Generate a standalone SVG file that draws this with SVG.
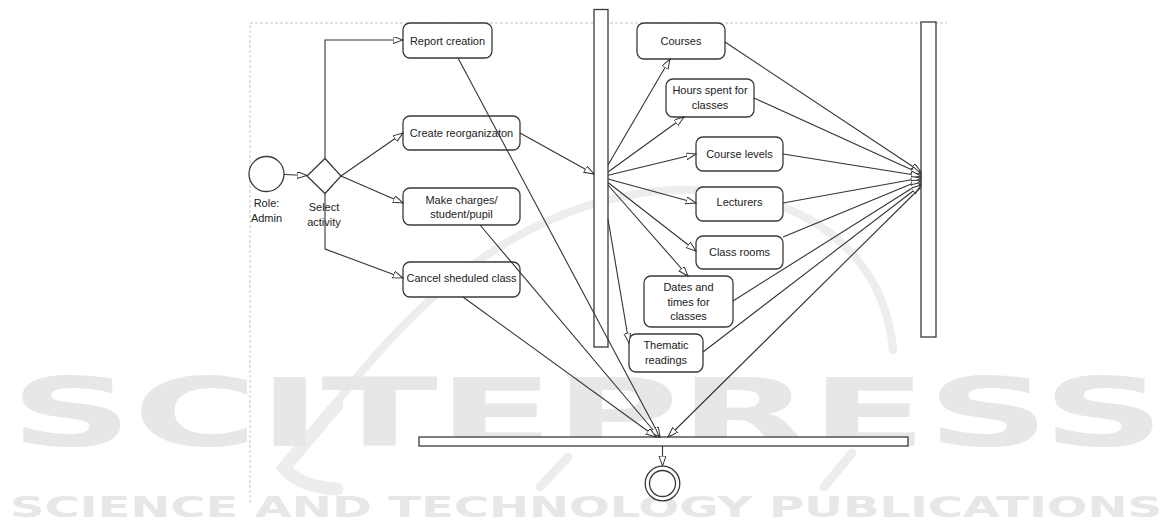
<svg xmlns="http://www.w3.org/2000/svg" width="1172" height="525" viewBox="0 0 1172 525">
<defs>
<marker id="ah" markerUnits="userSpaceOnUse" markerWidth="12" markerHeight="9" refX="10" refY="3.5" orient="auto">
<path d="M0,0 L10,3.5 L0,7 z" fill="#fff" stroke="#333" stroke-width="1"/>
</marker>
<style>
.wm{fill:#e7e7e7;font-family:"DejaVu Sans",sans-serif;font-weight:bold}
.sw{fill:none;stroke:#ededed;stroke-linecap:round}
.bd{fill:none;stroke:#c4c4c4;stroke-width:1;stroke-dasharray:3 2}
.n{fill:#fff;stroke:#3a3a3a;stroke-width:1.3}
.bar{fill:#fff;stroke:#3a3a3a;stroke-width:1.3}
.t{font-family:"Liberation Sans",Arial,sans-serif;font-size:11px;fill:#222;text-anchor:middle}
.e{fill:none;stroke:#333;stroke-width:1.1;marker-end:url(#ah)}
</style>
</defs>
<rect width="1172" height="525" fill="#fff"/>
<g id="watermark">
<path class="sw" stroke-width="8" d="M 337 402 C 420 295, 525 200, 670 190 C 805 185, 885 255, 893 350"/>
<path class="sw" stroke-width="13" d="M 337 405 L 284 468 Q 300 487 337 489"/>
<path class="sw" stroke-width="9" d="M 568 457 L 540 487 M 852 453 L 824 487"/>
<text class="wm" x="10" y="446" font-size="95" textLength="1155" lengthAdjust="spacingAndGlyphs">SCITEPRESS</text>
<text class="wm" x="10" y="517" font-size="27.5" textLength="1152" lengthAdjust="spacingAndGlyphs">SCIENCE AND TECHNOLOGY PUBLICATIONS</text>
</g>
<path class="bd" d="M 250 503 L 250 23 L 947 23"/>
<g id="bars">
<rect id="forkBar" class="bar" x="594" y="9.5" width="14" height="337.5"/>
<rect id="joinBar" class="bar" x="921" y="22" width="15" height="315"/>
<rect id="finalBar" class="bar" x="419" y="437" width="489" height="9"/>
</g>
<g id="start">
<circle class="n" cx="266.5" cy="174" r="17.5"/>
<text class="t" x="266.5" y="207">Role:</text>
<text class="t" x="266.5" y="222">Admin</text>
</g>
<g id="decision">
<polygon class="n" points="307,176 325,158.5 341,176 325,193.5"/>
<text class="t" x="324" y="210.5">Select</text>
<text class="t" x="324" y="225.5">activity</text>
</g>
<g id="reportCreation">
<rect class="n" x="403" y="23" width="89" height="35" rx="7"/>
<text class="t" x="447.5" y="44.5">Report creation</text>
</g>
<g id="createReorg">
<rect class="n" x="403" y="116" width="117" height="34" rx="7"/>
<text class="t" x="461.5" y="137">Create reorganizaton</text>
</g>
<g id="makeCharges">
<rect class="n" x="403" y="188" width="117" height="37" rx="7"/>
<text class="t" x="461.5" y="204">Make charges/</text>
<text class="t" x="461.5" y="217.5">student/pupil</text>
</g>
<g id="cancelClass">
<rect class="n" x="403" y="262" width="117" height="35" rx="7"/>
<text class="t" x="461.5" y="282">Cancel sheduled class</text>
</g>
<g id="courses">
<rect class="n" x="637" y="23" width="88" height="36" rx="7"/>
<text class="t" x="681" y="44.5">Courses</text>
</g>
<g id="hours">
<rect class="n" x="666" y="79" width="88" height="38" rx="7"/>
<text class="t" x="710" y="94">Hours spent for</text>
<text class="t" x="710" y="109">classes</text>
</g>
<g id="courseLevels">
<rect class="n" x="696" y="137" width="87" height="34" rx="7"/>
<text class="t" x="739.5" y="157.5">Course levels</text>
</g>
<g id="lecturers">
<rect class="n" x="696" y="187" width="87" height="34" rx="7"/>
<text class="t" x="739.5" y="206">Lecturers</text>
</g>
<g id="classRooms">
<rect class="n" x="696" y="236" width="87" height="33" rx="7"/>
<text class="t" x="739.5" y="255.5">Class rooms</text>
</g>
<g id="datesTimes">
<rect class="n" x="644" y="276" width="89" height="51" rx="7"/>
<text class="t" x="688.5" y="291">Dates and</text>
<text class="t" x="688.5" y="305.5">times for</text>
<text class="t" x="688.5" y="320">classes</text>
</g>
<g id="thematic">
<rect class="n" x="629" y="334" width="74" height="38" rx="7"/>
<text class="t" x="666" y="349">Thematic</text>
<text class="t" x="666" y="364">readings</text>
</g>
<g id="end">
<circle class="n" cx="662.5" cy="483.5" r="17.3"/>
<circle class="n" cx="662.5" cy="483.5" r="13"/>
</g>
<g id="connectors">
<path class="e" d="M 284 174.5 L 307 175.5"/>
<path class="e" d="M 325 158.5 L 325 40 L 403 40"/>
<path class="e" d="M 341 176 L 403 133"/>
<path class="e" d="M 341 176 L 403 203"/>
<path class="e" d="M 325 193.5 L 325 249 L 403 278"/>
<path class="e" d="M 520 133 L 594 174"/>
<path class="e" d="M 608 165 L 670 59"/>
<path class="e" d="M 608 172 L 684 117"/>
<path class="e" d="M 608 175.3 L 696 154"/>
<path class="e" d="M 608 179 L 696 203"/>
<path class="e" d="M 608 182.5 L 696 251"/>
<path class="e" d="M 608 185 L 688 276"/>
<path class="e" d="M 608 219 L 629 343"/>
<path class="e" d="M 725 42 L 921 172"/>
<path class="e" d="M 754 98 L 921 174"/>
<path class="e" d="M 783 154 L 921 176"/>
<path class="e" d="M 783 203 L 921 178"/>
<path class="e" d="M 783 237 L 921 180"/>
<path class="e" d="M 733 301 L 921 182.5"/>
<path class="e" d="M 703 352 L 921 185"/>
<path class="e" d="M 458 58 L 660 437"/>
<path class="e" d="M 480 225 L 659 437"/>
<path class="e" d="M 463 297 L 656 437"/>
<path class="e" d="M 921 187 L 668 437"/>
<path class="e" d="M 662.5 446 L 662.5 466"/>
</g>
</svg>
